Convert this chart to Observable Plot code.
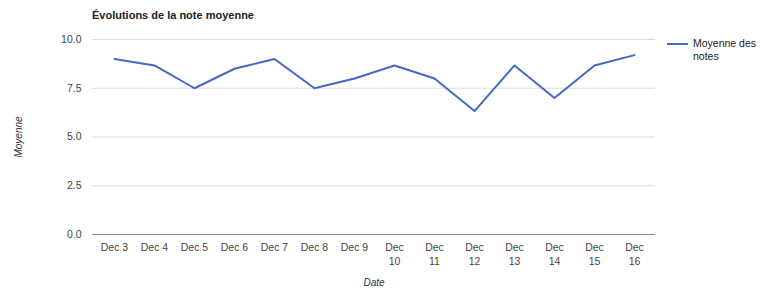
<!DOCTYPE html>
<html>
<head>
<meta charset="utf-8">
<script src="https://cdn.jsdelivr.net/npm/d3@7"></script>
<script src="https://cdn.jsdelivr.net/npm/@observablehq/plot@0.6"></script>
<style>
  html, body { margin: 0; padding: 0; background: #fff; }
  #wrap { position: relative; width: 760px; height: 288px; font-family: "Liberation Sans", Arial, sans-serif; overflow: hidden; }
  #wrap svg { position: absolute; left: 0; top: 0; }
  .title { position: absolute; left: 92px; top: 9px; font-size: 11px; font-weight: bold; color: #222; white-space: nowrap; }
  .ylab { position: absolute; left: 18px; top: 137px; font-size: 10px; font-style: italic; color: #333; transform: translate(-50%, -50%) rotate(-90deg); white-space: nowrap; }
  .xlab { position: absolute; left: 374px; top: 282px; font-size: 10px; font-style: italic; color: #333; transform: translate(-50%, -50%); white-space: nowrap; }
  .legend { position: absolute; left: 667px; top: 37px; font-size: 10.5px; color: #222; line-height: 13px; }
  .legend .sw { position: absolute; left: 0; top: 6px; width: 21px; height: 2px; background: #4468c8; }
  .legend .tx { position: absolute; left: 26px; top: 0; white-space: nowrap; }
</style>
</head>
<body>
<div id="wrap">
  <div class="title">Évolutions de la note moyenne</div>
  <div class="ylab">Moyenne</div>
  <div class="xlab">Date</div>
  <div class="legend"><div class="sw"></div><div class="tx">Moyenne des<br>notes</div></div>
</div>
<script>
const dates = ["Dec 3","Dec 4","Dec 5","Dec 6","Dec 7","Dec 8","Dec 9","Dec 10","Dec 11","Dec 12","Dec 13","Dec 14","Dec 15","Dec 16"];
const dateLabels = ["Dec 3","Dec 4","Dec 5","Dec 6","Dec 7","Dec 8","Dec 9","Dec\n10","Dec\n11","Dec\n12","Dec\n13","Dec\n14","Dec\n15","Dec\n16"];
const moyennes = [9.0, 8.67, 7.5, 8.5, 9.0, 7.5, 8.0, 8.67, 8.0, 6.33, 8.67, 7.0, 8.67, 9.2];
const yTicks = [0, 2.5, 5, 7.5, 10];

const data = dates.map((d, i) => ({date: d, value: moyennes[i]}));
const labelOf = new Map(dates.map((d, i) => [d, dateLabels[i]]));

const chart = Plot.plot({
  width: 760,
  height: 288,
  marginLeft: 92,
  marginRight: 105,
  marginTop: 39,
  marginBottom: 54,
  style: {fontFamily: "Liberation Sans, Arial, sans-serif", fontSize: "10.5px", color: "#444", background: "transparent"},
  x: {type: "point", domain: dates, padding: 0.5},
  y: {domain: [0, 10]},
  marks: [
    Plot.gridY(yTicks, {stroke: "#dadada", strokeOpacity: 1}),
    Plot.ruleY([0], {stroke: "#8a8a8a", strokeWidth: 1}),
    Plot.axisY({ticks: yTicks, tickSize: 0, tickPadding: 11, tickFormat: d => d.toFixed(1), label: null, fill: "#444"}),
    Plot.axisX({tickSize: 0, tickPadding: 7, tickFormat: d => labelOf.get(d), label: null, lineHeight: 1.3, fill: "#444"}),
    Plot.line(data, {x: "date", y: "value", stroke: "#4468c8", strokeWidth: 2})
  ]
});
document.getElementById("wrap").appendChild(chart);
</script>
</body>
</html>
